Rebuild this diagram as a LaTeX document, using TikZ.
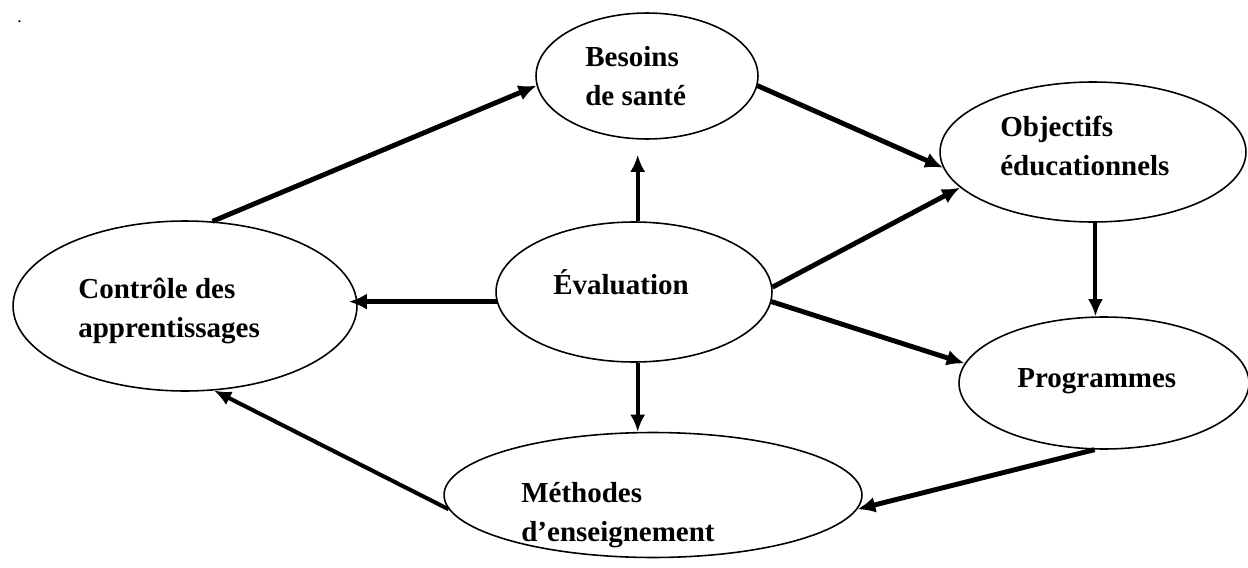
\documentclass[tikz,border=0pt]{standalone}
\usepackage{fontspec}
\setmainfont{Liberation Serif}
\usetikzlibrary{shapes.geometric,arrows.meta}
\begin{document}
\begin{tikzpicture}[x=0.02cm,y=-0.02cm,
    bubble/.style={ellipse,draw,line width=0.9pt,inner sep=0pt},
    txt/.style={anchor=base west,align=left,inner sep=0pt,
        font=\bfseries\fontsize{16.5}{22}\selectfont},
    bigarrow/.style={line width=2.8pt,-{Latex[length=0.36cm,width=0.32cm]}},
    midarrow/.style={line width=2.3pt,-{Latex[length=0.34cm,width=0.3cm]}}]
            \useasboundingbox (0,0) rectangle (1248,568);
            \node[txt,font=\normalsize] (dot) at (17,22) {.};
            % the six ellipses
            \node[bubble,minimum width=4.44cm,minimum height=2.52cm] (besoins) at (647,76) {};
            \node[bubble,minimum width=6.12cm,minimum height=2.8cm] (objectifs) at (1093,152) {};
            \node[bubble,minimum width=5.52cm,minimum height=2.8cm] (evaluation) at (634,292) {};
            \node[bubble,minimum width=6.88cm,minimum height=3.4cm] (controle) at (185,306) {};
            \node[bubble,minimum width=5.8cm,minimum height=2.64cm] (programmes) at (1104,383) {};
            \node[bubble,minimum width=8.36cm,minimum height=2.5cm] (methodes) at (653,495) {};
            % their texts (base = last line)
            \node[txt] (tbesoins) at (585,105) {Besoins\\de santé};
            \node[txt] (tobjectifs) at (1000,175) {Objectifs\\éducationnels};
            \node[txt] (tevaluation) at (553,294) {Évaluation};
            \node[txt] (tcontrole) at (78,337) {Contrôle des\\apprentissages};
            \node[txt] (tprogrammes) at (1017,387) {Programmes};
            \node[txt] (tmethodes) at (521,541) {Méthodes\\d’enseignement};
            % the cycle
            \draw[bigarrow] (controle.72) -- (besoins.185);
            \draw[bigarrow] (besoins.-5) -- (objectifs.186);
            \draw[midarrow] (objectifs.-88) -- (objectifs.-88 |- programmes.north);
            \draw[bigarrow] (programmes.-98) -- (methodes.-4);
            \draw[midarrow] (methodes.184) -- (controle.-71);
            % from the evaluation
            \draw[midarrow,shorten >=0.3cm] (evaluation.87) -- (evaluation.87 |- besoins.south);
            \draw[bigarrow] (evaluation.2) -- (objectifs.195);
            \draw[bigarrow,shorten >=-0.18cm] (evaluation.184) -- (evaluation.184 -| controle.east);
            \draw[bigarrow] (evaluation.-4) -- (programmes.172);
            \draw[midarrow] (evaluation.-87) -- (evaluation.-87 |- methodes.north);
        \end{tikzpicture}
\end{document}
